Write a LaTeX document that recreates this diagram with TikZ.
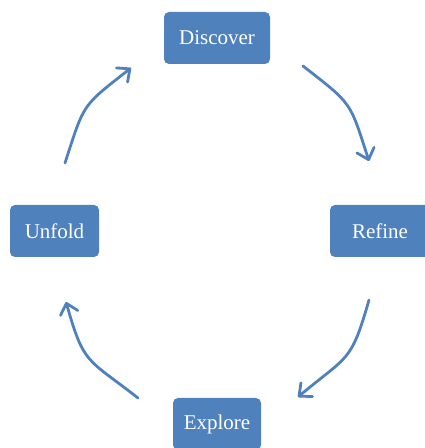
\documentclass[tikz,border=0pt]{standalone}
\usepackage{fontspec}
\setmainfont{Liberation Serif}
\usetikzlibrary{arrows.meta}
\definecolor{boxblue}{HTML}{4F81BD}
\begin{document}
\begin{tikzpicture}[x=1pt,y=1pt,
  stagebox/.style={draw=none, fill=boxblue, rounded corners=5pt, text=white,
    font=\fontsize{21}{24}\selectfont, minimum height=52pt, inner sep=0pt},
  cyclearrow/.style={draw=boxblue, line width=2.8pt, line cap=round,
    -{Straight Barb[length=10pt,width=18pt,line width=2.8pt,round]}}]
\useasboundingbox (0,0) rectangle (425,448);
\clip (0,0) rectangle (425,448);
\node[stagebox, minimum width=106pt] (discover) at (217,410) {Discover};
\node[stagebox, minimum width=100pt] (refine) at (380,217) {Refine};
\node[stagebox, minimum width=88pt] (explore) at (217,24) {Explore};
\node[stagebox, minimum width=89pt] (unfold) at (54.5,217) {Unfold};
\coordinate (a1s) at (65,285);
\coordinate (a1e) at (131,380);
\coordinate (a2s) at (303,382);
\coordinate (a2e) at (369,287);
\coordinate (a3s) at (369,148);
\coordinate (a3e) at (298,51);
\coordinate (a4s) at (138,50);
\coordinate (a4e) at (66,146);
\draw[cyclearrow] (a1s) to[out=72,in=218,looseness=1.4] (a1e);
\draw[cyclearrow] (a2s) to[out=-38,in=108,looseness=1.4] (a2e);
\draw[cyclearrow] (a3s) to[out=-106,in=40,looseness=1.4] (a3e);
\draw[cyclearrow] (a4s) to[out=142,in=286,looseness=1.4] (a4e);
\end{tikzpicture}
\end{document}
